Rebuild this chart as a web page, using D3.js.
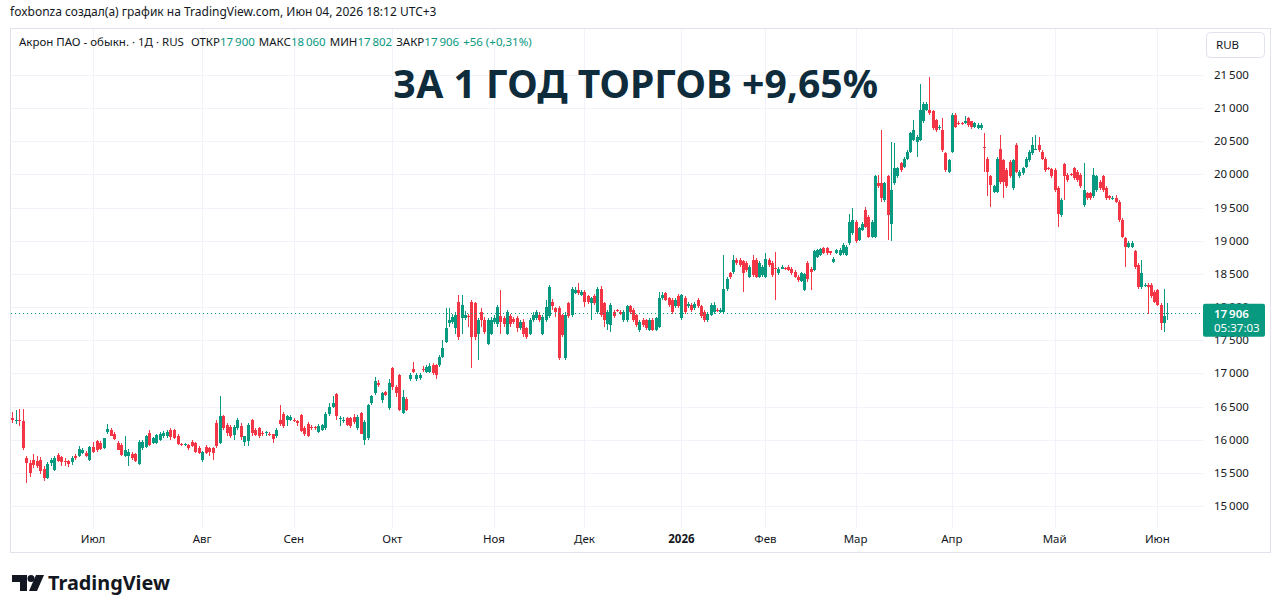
<!DOCTYPE html>
<html>
<head>
<meta charset="utf-8">
<script src="https://cdn.jsdelivr.net/npm/d3@7"></script>
<style>
    body { margin: 0; background: #fff; }
    svg { display: block; font-family: "Noto Sans", sans-serif; }
</style>
</head>
<body>
<svg id="chart" width="1280" height="613"></svg>
<script>
// daily candles [open, high, low, close]
const ohlc = [
    [16330,16420,16250,16290],[16290,16450,16240,16300],[16300,16460,16200,16280],[16280,16460,15850,15880],
    [15720,15760,15340,15650],[15650,15700,15430,15500],[15700,15790,15580,15620],[15680,15750,15570,15600],
    [15700,15740,15480,15530],[15560,15600,15380,15420],[15420,15660,15400,15630],[15650,15720,15600,15690],
    [15550,15760,15530,15730],[15770,15800,15660,15680],[15740,15760,15610,15660],[15680,15720,15600,15670],
    [15680,15700,15590,15640],[15660,15750,15620,15720],[15750,15790,15690,15730],[15760,15900,15740,15860],
    [15800,15880,15780,15840],[15800,15830,15740,15760],[15700,15900,15680,15890],[15890,15960,15800,15820],
    [15980,16000,15820,15840],[15950,15980,15850,15860],[15880,16030,15860,16020],[16120,16230,16080,16160],
    [16140,16180,16050,16060],[16090,16120,15990,16010],[15950,15980,15840,15850],[15920,15950,15760,15770],
    [15760,16050,15740,15840],[15750,15860,15600,15820],[15790,15820,15700,15720],[15780,15800,15660,15680],
    [15640,16000,15620,15970],[15870,15990,15850,15960],[15890,16070,15870,16050],[16100,16140,15900,15920],
    [15950,16040,15930,16020],[15950,16080,15930,16070],[16000,16120,15980,16090],[16050,16130,16030,16100],
    [16050,16150,16030,16120],[16150,16180,16000,16040],[16150,16160,16010,16020],[16060,16080,15920,15940],
    [15930,15950,15900,15920],[15920,15950,15900,15930],[15920,15940,15850,15870],[15970,15990,15890,15900],
    [15950,15970,15800,15820],[15880,15900,15780,15800],[15690,15830,15670,15820],[15890,15920,15780,15800],
    [15870,15890,15760,15820],[15870,15890,15700,15800],[16250,16300,15880,15900],[15950,16660,15930,16350],
    [16350,16370,16150,16170],[16220,16250,16050,16100],[16190,16220,16020,16050],[16070,16220,16000,16190],
    [16170,16330,16150,16300],[16200,16250,16000,16040],[15960,16060,15900,16050],[15980,16250,15900,16220],
    [16300,16310,16050,16100],[16140,16170,16060,16070],[16170,16190,16020,16050],[16100,16130,16060,16090],
    [16120,16130,16060,16120],[16090,16110,16050,16070],[16080,16090,15950,16010],[16050,16170,16030,16150],
    [16290,16520,16200,16240],[16390,16420,16180,16200],[16290,16370,16200,16360],[16300,16370,16280,16340],
    [16300,16320,16270,16290],[16280,16300,16200,16250],[16370,16390,16120,16130],[16180,16210,16060,16080],
    [16230,16260,16040,16050],[16190,16220,16150,16180],[16190,16210,16150,16180],[16120,16230,16100,16210],
    [16150,16240,16130,16220],[16170,16420,16150,16390],[16390,16560,16350,16490],[16500,16660,16480,16560],
    [16690,16700,16300,16350],[16320,16360,16200,16320],[16300,16340,16250,16300],[16320,16340,16200,16220],
    [16320,16340,16180,16210],[16340,16390,16230,16260],[16170,16370,16150,16340],[16400,16420,16080,16090],
    [16000,16290,15920,16270],[16020,16540,16000,16520],[16550,16680,16530,16660],[16700,16950,16680,16890],
    [16850,16900,16800,16820],[16600,16720,16550,16700],[16720,16730,16660,16680],[16480,16920,16450,16850],
    [17080,17100,16750,16800],[16800,16830,16650,16700],[16970,16990,16440,16450],[16400,16750,16390,16650],
    [16620,16650,16430,16450],
    [16910,17000,16890,16970],[17070,17170,17000,17020],[16910,17010,16890,16970],[16930,17000,16900,16970],
    [17070,17110,17020,17060],[17020,17130,17000,17100],[17020,17150,17010,17110],[17120,17150,16980,17000],
    [17120,17140,16920,16970],[17120,17280,17100,17250],[17250,17500,17230,17380],[17480,17980,17460,17680],
    [17760,17990,17700,17800],[17780,17900,17750,17850],[17680,17920,17600,17880],[18080,18180,17500,17550],
    [17830,18180,17600,18030],[17830,17940,17800,17880],[17860,17900,17700,17850],[18080,18110,17080,17550],
    [18060,18080,17500,17550],[17600,17830,17200,17800],[17930,17980,17700,17800],[17800,17850,17600,17630],
    [17450,17830,17430,17800],[17600,17850,17580,17800],[17780,17880,17750,17830],[17750,18030,17700,18000],
    [17860,18260,17600,17780],[17830,17860,17700,17750],[17600,17960,17580,17930],[17860,17900,17700,17750],
    [17820,17850,17750,17780],[17830,17860,17620,17680],[17680,17800,17650,17780],[17780,17820,17550,17600],
    [17680,17700,17520,17550],[17600,17830,17580,17800],[17800,17920,17780,17880],[17830,17950,17800,17920],
    [17880,17920,17780,17800],[17600,17880,17580,17850],[17800,18100,17780,18000],[17860,18330,17840,18310],
    [18080,18120,17950,18010],[17980,18000,17850,17930],[17980,18010,17200,17230],[17880,17900,17550,17580],
    [17230,17920,17200,17880],[18060,18080,17830,17860],[17880,18300,17850,18280],[18210,18300,18200,18260],
    [18260,18360,18180,18210],[18180,18260,18160,18230],[18230,18260,18000,18080],[18160,18180,18050,18080],
    [18060,18150,17800,18130],[18160,18190,18030,18060],[17930,18300,17900,18280],[18280,18320,17850,17880],
    [18060,18080,17700,17800],[17750,17950,17650,17930],[17730,18060,17630,18030],[17930,17960,17830,17860],
    [17950,17970,17920,17940],[17930,17950,17880,17900],[17800,17960,17780,17930],[17800,18030,17780,18010],
    [18010,18030,17900,17930],[17960,17980,17780,17800],[17880,17900,17700,17730],[17650,17800,17630,17780],
    [17800,17830,17700,17730],[17800,17820,17650,17680],[17650,17830,17640,17800],[17800,17830,17640,17650],
    [17650,17850,17640,17830],[17700,18230,17690,18130],[18130,18220,18100,18180],[18210,18230,18090,18110],
    [18130,18150,18000,18030],[18110,18130,17900,17930],[18010,18130,17980,18110],[18160,18190,17980,18010],
    [17830,18200,17800,18180],[18130,18160,17900,17930],[18010,18080,17980,18050],[18030,18060,17930,17960],
    [17980,18080,17960,18050],[18110,18130,17980,18010],[18010,18030,17830,17860],[17930,17950,17780,17800],
    [17800,17930,17780,17900],[17880,18060,17860,18030],[17930,18080,17900,18030],[17960,17980,17930,17950],
    [17930,17980,17910,17960],[17930,18780,17900,18280],[18280,18460,18250,18430],[18510,18530,18430,18460],
    [18530,18780,18500,18710],[18710,18740,18630,18660],[18710,18740,18600,18630],[18690,18710,18230,18510],
    [18660,18690,18530,18560],[18460,18640,18440,18610],[18710,18780,18460,18480],[18710,18740,18440,18460],
    [18460,18690,18440,18660],[18480,18640,18460,18610],[18460,18810,18440,18730],[18710,18740,18600,18630],
    [18660,18690,18460,18480],[18590,18830,18100,18580],[18510,18610,18490,18580],[18580,18630,18570,18610],
    [18590,18610,18560,18580],[18610,18630,18540,18560],[18580,18610,18490,18510],[18530,18560,18440,18460],
    [18460,18480,18380,18410],
    [18400,18530,18380,18510],[18260,18520,18250,18500],[18660,18690,18380,18430],[18580,18610,18260,18530],
    [18560,18860,18540,18840],[18760,18880,18740,18860],[18780,18890,18770,18870],[18890,18900,18800,18820],
    [18890,18900,18790,18810],[18840,18850,18790,18810],[18680,18760,18660,18730],[18820,18880,18800,18860],
    [18780,18890,18770,18860],[18810,18960,18790,18940],[18780,18940,18770,18910],[18960,19410,18940,19290],
    [19110,19490,19090,19310],[19290,19310,18960,18990],[19010,19210,18990,19190],[19160,19290,19140,19260],
    [19460,19510,19190,19210],[19360,19390,19040,19060],[19060,19310,19040,19290],[19060,19990,19040,19970],
    [19870,19990,19790,19820],[19870,20670,19590,19640],[19620,19890,19590,19870],[19970,19990,19010,19390],
    [19260,20490,19000,19770],[19870,20470,19840,20090],[19970,20120,19940,20090],[20170,20190,20040,20070],
    [20120,20270,20090,20240],[20240,20370,20220,20340],[20340,20640,20320,20620],[20520,20820,20500,20670],
    [20490,20600,20270,20570],[20520,21370,20500,20970],[20800,21100,20770,21070],[20970,21100,20950,21070],
    [20970,21470,20900,20920],[20950,20970,20670,20700],[20820,20840,20640,20670],[20700,20740,20670,20720],
    [20670,20850,20340,20370],[20320,20340,20040,20070],[20040,20240,20020,20220],[20340,20920,20320,20900],
    [20900,20920,20700,20720],[20780,20800,20750,20770],[20780,20790,20740,20770],[20770,20880,20760,20800],
    [20850,20870,20720,20750],[20800,20810,20680,20720],[20720,20790,20700,20770],[20700,20770,20680,20750],
    [20700,20770,20670,20750],[20410,20620,20040,20400],[20240,20270,19670,20040],[19970,19990,19510,19840],
    [19740,19840,19720,19820],[19740,20270,19720,20240],[20390,20600,19860,19890],[20220,20240,19650,19890],
    [20070,20090,19790,19820],[20190,20220,19940,19970],[19790,20240,19760,20220],[20440,20470,20020,20040],
    [19970,20070,19940,20040],[20020,20120,19990,20090],[20120,20270,20090,20240],[20220,20370,20190,20340],
    [20320,20570,20290,20440],[20390,20600,20370,20390],[20440,20570,20340,20370],[20340,20370,20220,20240],
    [20240,20270,20040,20070],[20100,20120,20070,20090],[20080,20100,19940,19970],[20070,20090,19740,19770],
    [19790,19820,19210,19410],[19390,19640,19360,19610],[20160,20180,19610,19970],[19990,20020,19890,19920],
    [20000,20020,19970,19990],[20090,20120,19920,19940],[20040,20070,19890,19920],[19990,20020,19790,19820],
    [19540,20170,19510,19770],[19720,19740,19610,19640],[19720,19740,19610,19640],[19670,20090,19640,19990],
    [19770,19990,19740,19970],[19890,19920,19770,19790],[19970,19990,19740,19770],[19790,19820,19610,19640],
    [19670,19690,19610,19640],[19640,19670,19610,19640],[19640,19690,19570,19590],[19590,19610,19290,19310],
    [19310,19340,19040,19060],[19040,19060,18610,18910],[18910,18990,18890,18960],[18910,18990,18890,18960],
    [18840,18860,18580,18610],[18630,18660,18280,18310],[18310,18710,18280,18510],[18330,18360,18310,18330],
    [18330,18360,17900,18310],[18330,18360,18130,18160],[18230,18260,18060,18080],[18260,18280,18010,18030],
    [18030,18060,17650,17760],[17760,18280,17630,17860],[17900,18060,17802,17906]
];

const monthLabels = ['Июл', 'Авг', 'Сен', 'Окт', 'Ноя', 'Дек', '2026', 'Фев', 'Мар', 'Апр', 'Май', 'Июн'];
const monthStarts = [23, 54, 80, 108, 139, 167, 197, 223, 251, 281, 313, 345];
const priceTicks = [15000, 15500, 16000, 16500, 17000, 17500, 18000, 18500, 19000, 19500, 20000, 20500, 21000, 21500];

const lastBar = { open: 17900, high: 18060, low: 17802, close: 17906, change: '+56 (+0,31%)', timer: '05:37:03' };
const headerText = 'foxbonza создал(а) график на TradingView.com, Июн 04, 2026 18:12 UTC+3';
const titleText = 'ЗА 1 ГОД ТОРГОВ +9,65%';

const UP = '#089981', DOWN = '#f23645', INK = '#131722', GRID = '#f0f3fa', BORDER = '#e0e3eb';

const ru = d3.formatLocale({ decimal: ',', thousands: '\u202f', grouping: [3], currency: ['', ''] });
const fmt = ru.format(',d');

const svg = d3.select('#chart');

const pane = { left: 10, right: 1203, top: 28, bottom: 522 };

// bars are a bit wider in the summer part of the chart, so the scale bends twice
const x = d3.scaleLinear()
    .domain([0, 113, 234, ohlc.length - 1])
    .range([12, 410, 801, 1167]);

const y = d3.scaleLinear()
    .domain([15000, 21500])
    .range([506, 75]);

// header line
svg.append('text')
    .attr('x', 10).attr('y', 16)
    .attr('font-size', 12).attr('fill', INK)
    .text(headerText);

// frame around chart
svg.append('rect')
    .attr('x', 10.5).attr('y', 28.5)
    .attr('width', 1260).attr('height', 524)
    .attr('fill', 'none').attr('stroke', BORDER);

// grid
svg.append('g').selectAll('line')
    .data(priceTicks)
    .join('line')
    .attr('x1', pane.left + 1).attr('x2', pane.right)
    .attr('y1', d => Math.round(y(d)) + 0.5).attr('y2', d => Math.round(y(d)) + 0.5)
    .attr('stroke', GRID);

svg.append('g').selectAll('line')
    .data(monthStarts)
    .join('line')
    .attr('x1', d => Math.round(x(d)) + 0.5).attr('x2', d => Math.round(x(d)) + 0.5)
    .attr('y1', pane.top + 1).attr('y2', pane.bottom + 6)
    .attr('stroke', GRID);

// title
svg.append('text')
    .attr('x', 393).attr('y', 98)
    .attr('font-size', 40).attr('font-weight', 700)
    .attr('fill', '#0e2c3b')
    .attr('textLength', 485).attr('lengthAdjust', 'spacingAndGlyphs')
    .text(titleText);

// candles
const candles = svg.append('g').attr('shape-rendering', 'crispEdges');
const c = candles.selectAll('g')
    .data(ohlc)
    .join('g')
    .attr('fill', d => d[3] >= d[0] ? UP : DOWN);

c.append('rect')
    .attr('x', (d, i) => Math.round(x(i)))
    .attr('width', 1)
    .attr('y', d => y(Math.max(d[1], d[0], d[3])))
    .attr('height', d => Math.max(1, y(Math.min(d[2], d[0], d[3])) - y(Math.max(d[1], d[0], d[3]))));

c.append('rect')
    .attr('x', (d, i) => Math.round(x(i)) - 1)
    .attr('width', 3)
    .attr('y', d => y(Math.max(d[0], d[3])))
    .attr('height', d => Math.max(1, Math.abs(y(d[0]) - y(d[3]))));

// last price line
svg.append('line')
    .attr('x1', pane.left + 1).attr('x2', pane.right)
    .attr('y1', Math.round(y(lastBar.close)) + 0.5).attr('y2', Math.round(y(lastBar.close)) + 0.5)
    .attr('stroke', UP).attr('stroke-dasharray', '1,3');

// legend
const legend = svg.append('text')
    .attr('x', 19).attr('y', 46)
    .attr('font-size', 11.5).attr('fill', INK);
legend.append('tspan').text('Акрон ПАО - обыкн. · 1Д · RUS  ');
[['ОТКР', lastBar.open], ['МАКС', lastBar.high], ['МИН', lastBar.low], ['ЗАКР', lastBar.close]].forEach(([k, v]) => {
    legend.append('tspan').attr('dx', 4).text(k);
    legend.append('tspan').attr('fill', UP).text(fmt(v));
});
legend.append('tspan').attr('dx', 4).attr('fill', UP).text(lastBar.change);

// price axis (the 18 000 label sits under the last-price tag, as in the original)
svg.append('g').selectAll('text')
    .data(priceTicks)
    .join('text')
    .attr('x', 1214).attr('y', d => y(d) + 4)
    .attr('font-size', 11.5).attr('fill', INK)
    .text(d => fmt(d));

// currency button
svg.append('rect')
    .attr('x', 1206.5).attr('y', 32.5).attr('width', 58).attr('height', 25).attr('rx', 4)
    .attr('fill', '#fff').attr('stroke', BORDER);
svg.append('text')
    .attr('x', 1216).attr('y', 49)
    .attr('font-size', 11.5).attr('fill', INK)
    .text('RUB');

// last price label
const ly = y(lastBar.close);
svg.append('rect')
    .attr('x', 1203).attr('y', ly - 9.5).attr('width', 62).attr('height', 33).attr('rx', 2)
    .attr('fill', UP);
svg.append('text')
    .attr('x', 1214).attr('y', ly + 5)
    .attr('font-size', 11.5).attr('font-weight', 600).attr('fill', '#fff')
    .text(fmt(lastBar.close));
svg.append('text')
    .attr('x', 1214).attr('y', ly + 19)
    .attr('font-size', 11.5).attr('fill', '#fff')
    .text(lastBar.timer);

// time axis
svg.append('g').selectAll('text')
    .data(monthLabels)
    .join('text')
    .attr('x', (d, i) => x(monthStarts[i]))
    .attr('y', 543)
    .attr('text-anchor', 'middle')
    .attr('font-size', 11.5)
    .attr('font-weight', d => d === '2026' ? 700 : 400)
    .attr('fill', INK)
    .text(d => d);

// TradingView logo
const logo = svg.append('g').attr('fill', INK);
logo.append('path').attr('d', 'M12 575 H27 V591 H20 V582 H12 Z');
logo.append('circle').attr('cx', 31).attr('cy', 578.5).attr('r', 3.5);
logo.append('path').attr('d', 'M36 575 H44 L37 591 H29 Z');
logo.append('text')
    .attr('x', 48).attr('y', 590)
    .attr('font-size', 20).attr('font-weight', 700)
    .attr('textLength', 122).attr('lengthAdjust', 'spacingAndGlyphs')
    .text('TradingView');
</script>
</body>
</html>
